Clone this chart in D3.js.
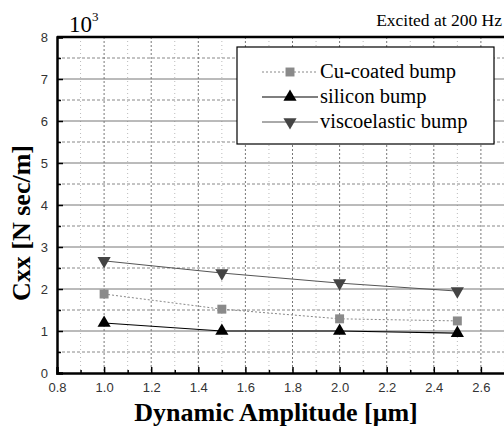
<!DOCTYPE html>
<html>
<head>
<meta charset="utf-8">
<script src="https://cdn.jsdelivr.net/npm/d3@7"></script>
<style>
  body { margin: 0; background: #fff; overflow: hidden; }
  svg { display: block; }
  .serif { font-family: 'Liberation Serif', 'Times New Roman', Times, serif; }
</style>
</head>
<body>
<div id="chart"></div>
<script>
// data (values in units of 10^3 N sec/m)
const amplitudes = [1.0, 1.5, 2.0, 2.5];
const cuCoated = [1.88, 1.52, 1.29, 1.24];
const silicon = [1.19, 1.0, 1.0, 0.95];
const viscoelastic = [2.67, 2.38, 2.14, 1.95];
const seriesNames = ['Cu-coated bump', 'silicon bump', 'viscoelastic bump'];
const xTicks = [0.8, 1.0, 1.2, 1.4, 1.6, 1.8, 2.0, 2.2, 2.4, 2.6];
const yTicks = [0, 1, 2, 3, 4, 5, 6, 7, 8];

const outerWidth = 504, outerHeight = 432;
const margin = {left: 57, top: 37};
const width = 471, height = 336;

const svg = d3.select('#chart').append('svg')
    .attr('width', outerWidth)
    .attr('height', outerHeight);

const g = svg.append('g')
    .attr('transform', `translate(${margin.left}, ${margin.top})`);

const x = d3.scaleLinear().domain([0.8, 2.8]).range([0, width]);
const y = d3.scaleLinear().domain([0, 8]).range([height, 0]);

// minor grid
const xMinor = d3.range(0.9, 2.8, 0.2);
const yMinor = d3.range(0.5, 8, 1);
g.append('g').selectAll('line').data(xMinor).join('line')
    .attr('x1', d => x(d)).attr('x2', d => x(d))
    .attr('y1', 0).attr('y2', height)
    .attr('stroke', '#bbb').attr('stroke-width', 1)
    .attr('stroke-dasharray', '1,3');
g.append('g').selectAll('line').data(yMinor).join('line')
    .attr('x1', 0).attr('x2', width)
    .attr('y1', d => y(d)).attr('y2', d => y(d))
    .attr('stroke', '#888').attr('stroke-width', 1)
    .attr('stroke-dasharray', '3,2');

// major grid
g.append('g').selectAll('line').data(xTicks.slice(1)).join('line')
    .attr('x1', d => x(d)).attr('x2', d => x(d))
    .attr('y1', 0).attr('y2', height)
    .attr('stroke', '#777').attr('stroke-width', 1)
    .attr('stroke-dasharray', '2,2');
g.append('g').selectAll('line').data(yTicks.slice(1, -1)).join('line')
    .attr('x1', 0).attr('x2', width)
    .attr('y1', d => y(d)).attr('y2', d => y(d))
    .attr('stroke', '#777').attr('stroke-width', 1);

// axes: ticks inward
const xAxis = g.append('g')
    .attr('transform', `translate(0, ${height})`)
    .call(d3.axisBottom(x).tickValues(xTicks).tickFormat(d3.format('.1f')).tickSize(-6).tickPadding(10));
g.append('g')
    .attr('transform', `translate(0, ${height})`)
    .call(d3.axisBottom(x).tickValues(xMinor).tickFormat('').tickSize(-3))
    .select('.domain').remove();
const yAxis = g.append('g')
    .call(d3.axisLeft(y).tickValues(yTicks).tickFormat(d3.format('d')).tickSize(-6).tickPadding(9));
g.append('g')
    .call(d3.axisLeft(y).tickValues(yMinor).tickFormat('').tickSize(-4))
    .select('.domain').remove();

[xAxis, yAxis].forEach(a => {
    a.select('.domain').attr('stroke-width', 2.5);
    a.selectAll('.tick text')
        .attr('fill', '#333')
        .attr('font-family', 'Liberation Sans, Arial, sans-serif')
        .attr('font-size', 13);
});
g.selectAll('.tick line').attr('stroke', '#000').attr('stroke-width', 1.5);

// top border
g.append('line')
    .attr('x1', 0).attr('x2', width)
    .attr('y1', 0).attr('y2', 0)
    .attr('stroke', '#000').attr('stroke-width', 2.5);

// series
const series = [
    {values: cuCoated, line: '#888', dash: '2,2', lw: 1, symbol: d3.symbolSquare, size: 80, fill: '#8a8a8a', rot: 0},
    {values: silicon, line: '#000', dash: null, lw: 1.2, symbol: d3.symbolTriangle, size: 75, fill: '#000', rot: 0},
    {values: viscoelastic, line: '#555', dash: null, lw: 1, symbol: d3.symbolTriangle, size: 75, fill: '#444', rot: 180}
];

const line = d3.line().x(d => x(d[0])).y(d => y(d[1]));

series.forEach(s => {
    const pts = amplitudes.map((a, i) => [a, s.values[i]]);
    g.append('path')
        .datum(pts)
        .attr('d', line)
        .attr('fill', 'none')
        .attr('stroke', s.line)
        .attr('stroke-width', s.lw)
        .attr('stroke-dasharray', s.dash);
    g.append('g').selectAll('path').data(pts).join('path')
        .attr('d', d3.symbol().type(s.symbol).size(s.size))
        .attr('transform', d => `translate(${x(d[0])}, ${y(d[1])}) rotate(${s.rot})`)
        .attr('fill', s.fill);
});

// legend
const legend = svg.append('g');
legend.append('rect')
    .attr('x', 237).attr('y', 47)
    .attr('width', 257).attr('height', 97)
    .attr('fill', '#fff')
    .attr('stroke', '#000').attr('stroke-width', 1.2);
series.forEach((s, i) => {
    const ly = 72 + i * 25;
    legend.append('line')
        .attr('x1', 262).attr('x2', 318)
        .attr('y1', ly).attr('y2', ly)
        .attr('stroke', s.line)
        .attr('stroke-width', s.lw)
        .attr('stroke-dasharray', s.dash);
    legend.append('path')
        .attr('d', d3.symbol().type(s.symbol).size(s.size))
        .attr('transform', `translate(290, ${ly}) rotate(${s.rot})`)
        .attr('fill', s.fill);
    legend.append('text')
        .attr('class', 'serif')
        .attr('x', 320).attr('y', ly + 6)
        .attr('font-size', 20.5)
        .text(seriesNames[i]);
});

// annotations
svg.append('text')
    .attr('class', 'serif')
    .attr('x', 502).attr('y', 26)
    .attr('text-anchor', 'end')
    .attr('font-size', 17.5)
    .text('Excited at 200 Hz');

const exp = svg.append('text')
    .attr('class', 'serif')
    .attr('x', 69).attr('y', 32)
    .attr('font-size', 23)
    .text('10');
exp.append('tspan')
    .attr('dy', -11)
    .attr('font-size', 13)
    .text('3');

// axis titles
svg.append('text')
    .attr('class', 'serif')
    .attr('transform', 'translate(30, 223) rotate(-90)')
    .attr('text-anchor', 'middle')
    .attr('font-size', 26)
    .attr('font-weight', 'bold')
    .text('Cxx [N sec/m]');

svg.append('text')
    .attr('class', 'serif')
    .attr('x', 276).attr('y', 421)
    .attr('text-anchor', 'middle')
    .attr('font-size', 26)
    .attr('font-weight', 'bold')
    .text('Dynamic Amplitude [\u03bcm]');
</script>
</body>
</html>
